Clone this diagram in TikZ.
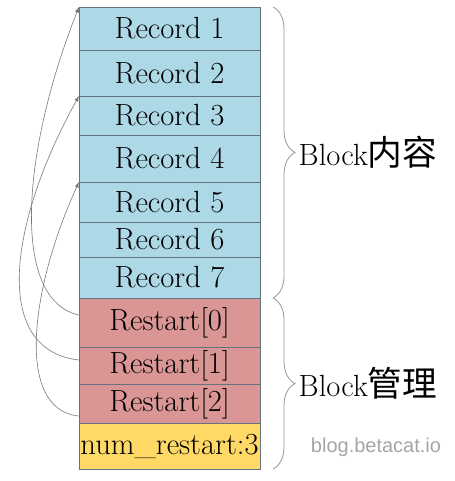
\documentclass[tikz,border=0pt]{standalone}
\usepackage{fontspec}
\newfontfamily\cjk{Noto Sans CJK SC}
\newfontfamily\wmfont{Liberation Sans}
\usetikzlibrary{positioning,decorations.pathreplacing}

\definecolor{recblue}{RGB}{173,216,230}
\definecolor{restpink}{RGB}{218,150,149}
\definecolor{numyellow}{RGB}{255,217,102}
\definecolor{cellline}{RGB}{100,115,125}
\definecolor{arrowgray}{RGB}{120,120,120}
\definecolor{bracegray}{RGB}{150,150,150}
\definecolor{markgray}{RGB}{165,165,165}

\begin{document}
\begin{tikzpicture}[x=0.75pt, y=-0.75pt, node distance=0pt, >=latex]
    \tikzstyle{cell}=[draw=cellline, line width=0.6pt, minimum width=135.75pt, inner sep=1pt, outer sep=0pt, font=\fontsize{23}{27}\selectfont]
    \tikzstyle{record}=[cell, fill=recblue]
    \tikzstyle{restart}=[cell, fill=restpink]
    \tikzstyle{brace}=[decorate, decoration={brace, amplitude=16.5pt}, draw=bracegray, line width=0.6pt]
    \tikzstyle{blocklabel}=[font=\fontsize{23}{27}\selectfont, inner sep=0pt]

    \useasboundingbox (0,0) rectangle (454,481);

    \node[record, minimum height=32.25pt] (R1) at (169.5,28.5) {Record 1};
    \node[record, minimum height=34.5pt, below=of R1] (R2) {Record 2};
    \node[record, minimum height=29.25pt, below=of R2] (R3) {Record 3};
    \node[record, minimum height=35.25pt, below=of R3] (R4) {Record 4};
    \node[record, minimum height=30pt, below=of R4] (R5) {Record 5};
    \node[record, minimum height=26.25pt, below=of R5] (R6) {Record 6};
    \node[record, minimum height=30.75pt, below=of R6] (R7) {Record 7};
    \node[restart, minimum height=36.75pt, below=of R7] (S0) {Restart[0]};
    \node[restart, minimum height=27.75pt, below=of S0] (S1) {Restart[1]};
    \node[restart, minimum height=29.25pt, below=of S1] (S2) {Restart[2]};
    \node[cell, fill=numyellow, minimum height=34.5pt, below=of S2] (N) {num\_restart:3};

    % restart points -> records
    \draw[->, draw=arrowgray, line width=0.45pt] ([yshift=5.6pt]S0.west) .. controls +(-69,-15) and +(-57,143) .. (R1.north west);
    \draw[->, draw=arrowgray, line width=0.45pt] ([yshift=4.1pt]S1.west) .. controls +(-89,-10) and +(-69,124) .. (R3.north west);
    \draw[->, draw=arrowgray, line width=0.45pt] ([yshift=-9.4pt]S2.west) .. controls +(-64,-6) and +(-49,107) .. (R5.north west);

    \draw[brace] ([xshift=9.75pt]R1.north east) -- ([xshift=9.75pt]R7.south east)
        node[blocklabel, midway, right=19pt] (content) {Block{\cjk\fontsize{26}{28}\selectfont 内容}};
    \draw[brace] ([xshift=9.75pt]S0.north east) -- ([xshift=9.75pt]N.south east)
        node[blocklabel, midway, right=19pt] (manage) {Block{\cjk\fontsize{26}{28}\selectfont 管理}};

    \node[text=markgray, font=\wmfont\fontsize{15}{18}\selectfont] (mark) at (376,447) {blog.betacat.io};
\end{tikzpicture}
\end{document}
